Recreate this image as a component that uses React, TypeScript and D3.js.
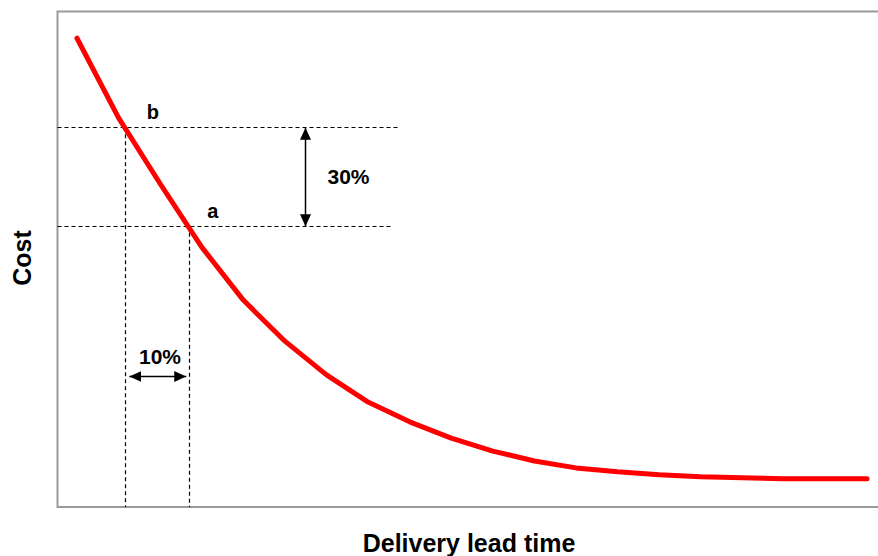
import React, { useEffect, useRef } from 'react';
import * as d3 from 'd3';

const width = 878,
  height = 556;

// curve vertices: lead time index and cost (0-100 relative)
const leadTime = [0, 1, 2, 3, 4, 5, 6, 7, 8, 9, 10, 11, 12, 13, 14, 15, 16, 17, 18, 19];
const cost = [94.7, 78.6, 65.3, 52.5, 41.8, 33.5, 26.7, 21.2, 17.2, 13.9, 11.3, 9.3, 7.9, 7.1, 6.5, 6.1, 5.9, 5.7, 5.7, 5.7];

// the two marked points b and a
const markNames = ['b', 'a'];
const markLeadTime = [1.15, 2.7];
const markCost = [76.7, 56.8];
const markLineEnd = [7.77, 7.55]; // where the horizontal guide stops

const costArrowAt = 5.48; // lead time of the vertical 30% arrow
const leadArrowAt = 26.4; // cost level of the horizontal 10% arrow
const costLabel = '30%';
const leadLabel = '10%';

const xTitle = 'Delivery lead time';
const yTitle = 'Cost';

const font = 'Arial, "Liberation Sans", sans-serif';

function App() {
  const ref = useRef<SVGSVGElement>(null);

  useEffect(() => {
    const svg = d3.select(ref.current);
    svg.selectAll('*').remove();

    const left = 57.5,
      top = 11.5,
      bottom = 507;

    const x = d3.scaleLinear().domain([0, 19]).range([77, 867]);
    const y = d3.scaleLinear().domain([0, 100]).range([bottom, 12]);

    const defs = svg.append('defs');
    defs.append('marker')
      .attr('id', 'head')
      .attr('viewBox', '0 0 12 11')
      .attr('refX', 12)
      .attr('refY', 5.5)
      .attr('markerWidth', 12)
      .attr('markerHeight', 11)
      .attr('markerUnits', 'userSpaceOnUse')
      .attr('orient', 'auto-start-reverse')
      .append('path')
      .attr('d', 'M0,0L12,5.5L0,11Z')
      .attr('fill', '#000');

    // frame (right side runs off the picture)
    svg.append('path')
      .attr('d', `M${width + 20},${top}H${left}V${bottom}H${width + 20}`)
      .attr('fill', 'none')
      .attr('stroke', '#9a9a9a')
      .attr('stroke-width', 2);

    // dashed guides
    const guides = svg.append('g')
      .attr('stroke', '#000')
      .attr('stroke-width', 1.2)
      .attr('stroke-dasharray', '4,3')
      .attr('fill', 'none');

    markNames.forEach((_, i) => {
      guides.append('line')
        .attr('x1', left).attr('x2', x(markLineEnd[i]))
        .attr('y1', Math.round(y(markCost[i])) + 0.5).attr('y2', Math.round(y(markCost[i])) + 0.5);
      guides.append('line')
        .attr('x1', Math.round(x(markLeadTime[i])) + 0.5).attr('x2', Math.round(x(markLeadTime[i])) + 0.5)
        .attr('y1', y(markCost[i])).attr('y2', bottom);
    });

    // the cost curve
    const line = d3.line<number>()
      .x((d, i) => x(leadTime[i]))
      .y((d) => y(d))
      .curve(d3.curveLinear);

    svg.append('path')
      .datum(cost)
      .attr('d', line)
      .attr('fill', 'none')
      .attr('stroke', '#ff0000')
      .attr('stroke-width', 5)
      .attr('stroke-linecap', 'round')
      .attr('stroke-linejoin', 'round');

    // point labels
    svg.selectAll('.mark-label')
      .data(markNames)
      .enter()
      .append('text')
      .attr('class', 'mark-label')
      .attr('x', (d, i) => x(markLeadTime[i]) + (i === 0 ? 22 : 18))
      .attr('y', (d, i) => y(markCost[i]) - 8)
      .attr('font-family', font)
      .attr('font-weight', 'bold')
      .attr('font-size', 20)
      .text((d) => d);

    // 30% vertical arrow
    const ax = Math.round(x(costArrowAt)) + 0.5;
    svg.append('line')
      .attr('x1', ax).attr('x2', ax)
      .attr('y1', y(markCost[0]) + 0.5).attr('y2', y(markCost[1]) + 0.5)
      .attr('stroke', '#000')
      .attr('stroke-width', 1.5)
      .attr('marker-start', 'url(#head)')
      .attr('marker-end', 'url(#head)');

    svg.append('text')
      .attr('x', ax + 22)
      .attr('y', (y(markCost[0]) + y(markCost[1])) / 2 + 7)
      .attr('font-family', font)
      .attr('font-weight', 'bold')
      .attr('font-size', 21)
      .text(costLabel);

    // 10% horizontal arrow
    const ay = Math.round(y(leadArrowAt)) + 0.5;
    const x0 = x(markLeadTime[0]),
      x1 = x(markLeadTime[1]);
    svg.append('line')
      .attr('x1', x0 + 4.5).attr('x2', x1 - 3)
      .attr('y1', ay).attr('y2', ay)
      .attr('stroke', '#000')
      .attr('stroke-width', 1.5)
      .attr('marker-start', 'url(#head)')
      .attr('marker-end', 'url(#head)');

    svg.append('text')
      .attr('x', (x0 + x1) / 2 + 3)
      .attr('y', ay - 13)
      .attr('text-anchor', 'middle')
      .attr('font-family', font)
      .attr('font-weight', 'bold')
      .attr('font-size', 21)
      .text(leadLabel);

    // axis titles
    svg.append('text')
      .attr('x', 469)
      .attr('y', 552)
      .attr('text-anchor', 'middle')
      .attr('font-family', font)
      .attr('font-weight', 'bold')
      .attr('font-size', 25)
      .text(xTitle);

    svg.append('text')
      .attr('transform', 'translate(31,258) rotate(-90)')
      .attr('text-anchor', 'middle')
      .attr('font-family', font)
      .attr('font-weight', 'bold')
      .attr('font-size', 25)
      .text(yTitle);
  }, []);

  return (
    <svg
      ref={ref}
      width={width}
      height={height}
      style={{ position: 'absolute', left: 0, top: 0, background: '#fff', display: 'block' }}
    />
  );
}

export default App;
